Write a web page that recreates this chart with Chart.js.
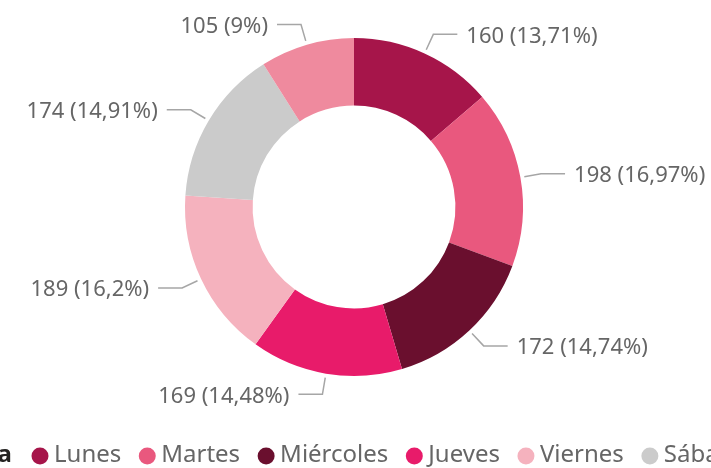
<!DOCTYPE html>
<html>
<head>
<meta charset="utf-8">
<script src="https://cdn.jsdelivr.net/npm/chart.js@4.4.0/dist/chart.umd.min.js"></script>
<style>
  html, body { margin: 0; padding: 0; background: #fff; overflow: hidden; }
  #wrap { width: 711px; height: 468px; }
</style>
</head>
<body>
<div id="wrap"><canvas id="dias" width="711" height="468"></canvas></div>
<script>
// data
var dias = ["Lunes", "Martes", "Miércoles", "Jueves", "Viernes", "Sábado", "Domingo"];
var conteo = [160, 198, 172, 169, 189, 174, 105];
var colores = ["#A6154A", "#E9587E", "#6A0F2E", "#E81B6A", "#F5B2BE", "#CBCBCB", "#EF8A9E"];
var tituloLeyenda = "Día";

var FONT = "'Noto Sans', 'Open Sans', sans-serif";
var total = conteo.reduce(function (a, b) { return a + b; }, 0);

function etiqueta(v) {
    var pct = Math.round(v / total * 10000) / 100;
    return v + " (" + String(pct).replace(".", ",") + "%)";
}

// leader lines + labels outside the ring
var etiquetasPlugin = {
    id: "etiquetas",
    afterDatasetsDraw: function (chart) {
        var ctx = chart.ctx;
        var meta = chart.getDatasetMeta(0);
        ctx.save();
        ctx.font = "22px " + FONT;
        ctx.textBaseline = "middle";
        meta.data.forEach(function (arc, i) {
            var a = (arc.startAngle + arc.endAngle) / 2;
            var cx = arc.x, cy = arc.y, r = arc.outerRadius;
            var c = Math.cos(a), s = Math.sin(a);
            var x0 = cx + c * (r + 4), y0 = cy + s * (r + 4);
            var x1 = cx + c * (r + 21), y1 = cy + s * (r + 21);
            var dir = c >= 0 ? 1 : -1;
            var x2 = x1 + dir * 24;
            ctx.strokeStyle = "#A6A6A6";
            ctx.lineWidth = 1.5;
            ctx.beginPath();
            ctx.moveTo(x0, y0);
            ctx.lineTo(x1, y1);
            ctx.lineTo(x2, y1);
            ctx.stroke();
            ctx.fillStyle = "#666666";
            ctx.textAlign = dir > 0 ? "left" : "right";
            ctx.fillText(etiqueta(chart.data.datasets[0].data[i]), x2 + dir * 9, y1 + 2);
        });
        ctx.restore();
    }
};

// legend strip at the bottom (scrolled, clipped at both sides)
var leyendaPlugin = {
    id: "leyendaTira",
    afterDraw: function (chart) {
        var ctx = chart.ctx;
        var y = 455;
        ctx.save();
        ctx.textBaseline = "middle";
        ctx.font = "bold 24px " + FONT;
        var x = 12 - ctx.measureText(tituloLeyenda).width;
        ctx.fillStyle = "#252423";
        ctx.textAlign = "left";
        ctx.fillText(tituloLeyenda, x, y);
        x += ctx.measureText(tituloLeyenda).width + 20;
        ctx.font = "24px " + FONT;
        chart.data.labels.forEach(function (lab, i) {
            ctx.fillStyle = chart.data.datasets[0].backgroundColor[i];
            ctx.beginPath();
            ctx.arc(x + 8, y + 1, 8.5, 0, Math.PI * 2);
            ctx.fill();
            x += 22;
            ctx.fillStyle = "#666666";
            ctx.fillText(lab, x, y);
            x += ctx.measureText(lab).width + 18;
        });
        ctx.restore();
    }
};

var chartDias = new Chart(document.getElementById("dias"), {
    type: "doughnut",
    data: {
        labels: dias,
        datasets: [{
            data: conteo,
            backgroundColor: colores,
            borderWidth: 0,
            hoverOffset: 0
        }]
    },
    options: {
        responsive: false,
        animation: false,
        cutout: "60%",
        layout: { padding: { top: 38, bottom: 92, left: 0, right: 3 } },
        plugins: {
            legend: { display: false },
            tooltip: { enabled: false }
        }
    },
    plugins: [etiquetasPlugin, leyendaPlugin]
});
</script>
</body>
</html>
